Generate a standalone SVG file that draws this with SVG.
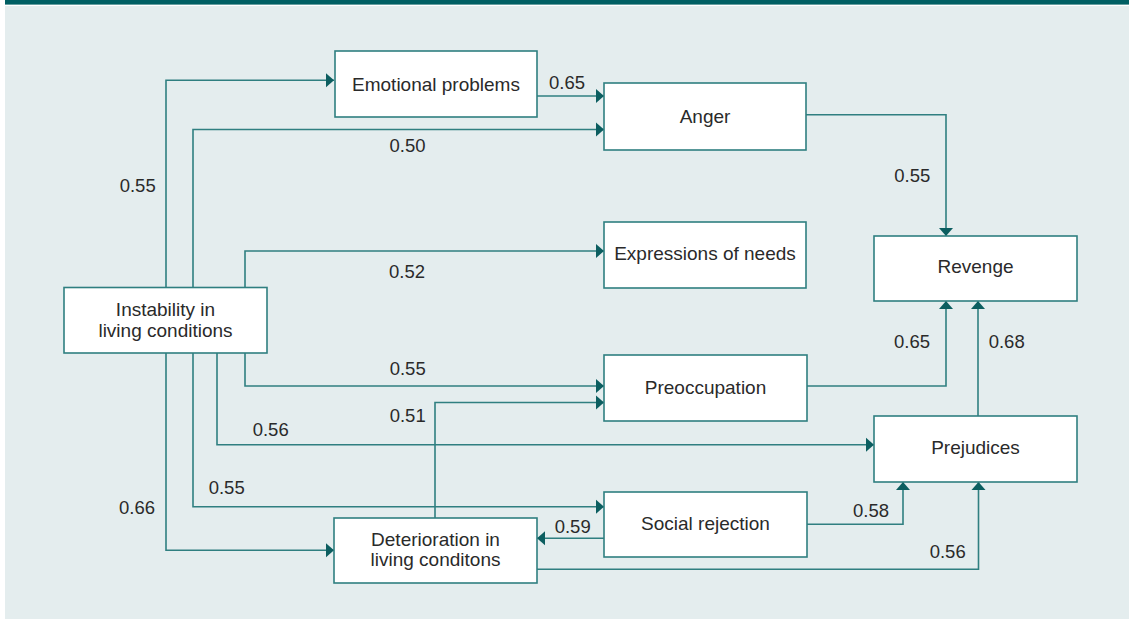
<svg xmlns="http://www.w3.org/2000/svg" width="1129" height="619" viewBox="0 0 1129 619">
<defs>
<style>
.bg{fill:#e4edee}
.bar{fill:#005f63}
.node rect{fill:#ffffff;stroke:#2f7f80;stroke-width:1.6}
.node text{font-family:"Liberation Sans",Arial,sans-serif;font-size:19px;fill:#2a2a2a;text-anchor:middle}
.edges path{fill:none;stroke:#2f7f80;stroke-width:1.6;marker-end:url(#arr)}
.lbl{font-family:"Liberation Sans",Arial,sans-serif;font-size:18.5px;fill:#2a2a2a;text-anchor:middle}
</style>
<marker id="arr" markerUnits="userSpaceOnUse" markerWidth="9" markerHeight="15" refX="8" refY="7" orient="auto" viewBox="0 0 9 14">
<path d="M0,0 L8,7 L0,14 Z" fill="#0c5e60"/>
</marker>
</defs>
<rect x="0" y="0" width="1129" height="619" fill="#ffffff"/>
<rect class="bar" x="5" y="0" width="1124" height="4.6"/>
<rect class="bg" x="5" y="6" width="1124" height="613"/>

<g class="edges" id="connectors">
<path d="M166,287.5 V80.3 H334"/>
<path d="M193,287.5 V129.5 H604"/>
<path d="M245,287.5 V251 H604"/>
<path d="M245,353 V386 H604"/>
<path d="M217,353 V444.7 H874"/>
<path d="M193,353 V506.7 H604"/>
<path d="M166,353 V550.3 H334"/>
<path d="M537,96 H604"/>
<path d="M806,114.7 H946 V236"/>
<path d="M807,386 H946 V301"/>
<path d="M978,416 V301"/>
<path d="M435,518 V402.5 H604"/>
<path d="M604,538.3 H537"/>
<path d="M807,524.3 H903 V482"/>
<path d="M537,569.3 H978.5 V482"/>
</g>

<g id="edge-labels">
<text class="lbl" x="137.7" y="191.7">0.55</text>
<text class="lbl" x="567" y="89">0.65</text>
<text class="lbl" x="407.5" y="151.6">0.50</text>
<text class="lbl" x="407" y="278">0.52</text>
<text class="lbl" x="912.3" y="182.3">0.55</text>
<text class="lbl" x="912" y="348.3">0.65</text>
<text class="lbl" x="1006.7" y="348.3">0.68</text>
<text class="lbl" x="407.7" y="375">0.55</text>
<text class="lbl" x="407.7" y="422">0.51</text>
<text class="lbl" x="270.7" y="436">0.56</text>
<text class="lbl" x="226.7" y="494">0.55</text>
<text class="lbl" x="137" y="514">0.66</text>
<text class="lbl" x="572.7" y="533.3">0.59</text>
<text class="lbl" x="871" y="516.7">0.58</text>
<text class="lbl" x="947.7" y="558.3">0.56</text>
</g>

<g class="node" id="emotional-problems">
<rect x="335" y="51" width="202" height="66"/>
<text x="436" y="90.7">Emotional problems</text>
</g>
<g class="node" id="anger">
<rect x="604" y="83" width="202" height="67"/>
<text x="705" y="122.8">Anger</text>
</g>
<g class="node" id="expressions-of-needs">
<rect x="604" y="222" width="202" height="66"/>
<text x="705" y="260.4">Expressions of needs</text>
</g>
<g class="node" id="revenge">
<rect x="874" y="236" width="203" height="65"/>
<text x="975.5" y="273.3">Revenge</text>
</g>
<g class="node" id="instability">
<rect x="64" y="287.5" width="203" height="65.5"/>
<text x="165.5" y="315.7">Instability in</text>
<text x="165.5" y="336.7">living conditions</text>
</g>
<g class="node" id="preoccupation">
<rect x="604" y="355" width="203" height="66"/>
<text x="705.5" y="394">Preoccupation</text>
</g>
<g class="node" id="prejudices">
<rect x="874" y="416" width="203" height="66"/>
<text x="975.5" y="454.3">Prejudices</text>
</g>
<g class="node" id="social-rejection">
<rect x="604" y="492" width="203" height="65"/>
<text x="705.5" y="530">Social rejection</text>
</g>
<g class="node" id="deterioration">
<rect x="334" y="518" width="203" height="65"/>
<text x="435.5" y="545.7">Deterioration in</text>
<text x="435.5" y="566">living conditons</text>
</g>
</svg>
